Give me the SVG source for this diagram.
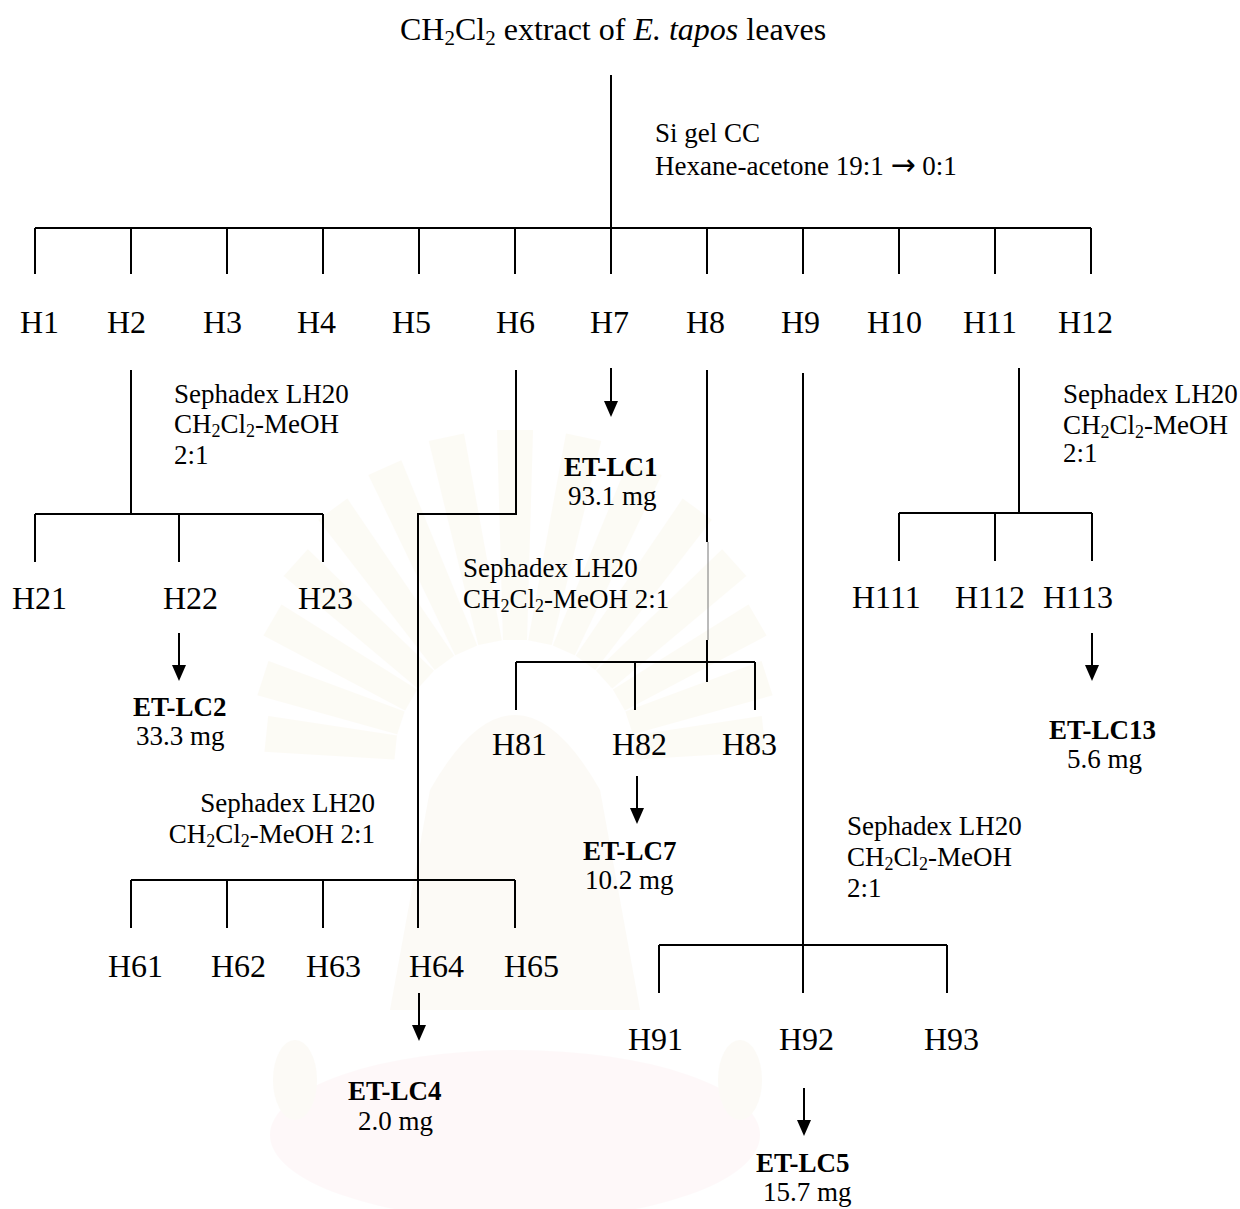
<svg xmlns="http://www.w3.org/2000/svg" width="1240" height="1209" viewBox="0 0 1240 1209">
  <defs>
    <style>
      .t { font-family: "Liberation Serif", "Times New Roman", serif; fill: #000; }
      .h { font-size: 32px; }
      .s { font-size: 27px; }
      .b { font-weight: bold; }
      .ln { stroke: #000; stroke-width: 2; fill: none; stroke-linecap: butt; }
      .thin { stroke: #777; stroke-width: 1; fill: none; }
      .ray { fill: #f6eed4; }
    </style>
    <marker id="ah" markerUnits="userSpaceOnUse" markerWidth="16" markerHeight="14" refX="0" refY="7" orient="auto" viewBox="0 0 16 14">
      <path d="M0,0 L16,7 L0,14 z" fill="#000"/>
    </marker>
  </defs>

  <rect width="1240" height="1209" fill="#fff"/>

  <!-- faint emblem watermark behind the chart -->
  <g id="watermark" opacity="0.22">
    <g class="ray" transform="translate(515 760)">
      <path d="M-12,-120 L-18,-330 L18,-330 L12,-120 z"/>
      <path d="M-12,-120 L-18,-330 L18,-330 L12,-120 z" transform="rotate(-12)"/>
      <path d="M-12,-120 L-18,-330 L18,-330 L12,-120 z" transform="rotate(12)"/>
      <path d="M-12,-120 L-18,-320 L18,-320 L12,-120 z" transform="rotate(-24)"/>
      <path d="M-12,-120 L-18,-320 L18,-320 L12,-120 z" transform="rotate(24)"/>
      <path d="M-12,-120 L-18,-310 L18,-310 L12,-120 z" transform="rotate(-36)"/>
      <path d="M-12,-120 L-18,-310 L18,-310 L12,-120 z" transform="rotate(36)"/>
      <path d="M-12,-120 L-18,-295 L18,-295 L12,-120 z" transform="rotate(-48)"/>
      <path d="M-12,-120 L-18,-295 L18,-295 L12,-120 z" transform="rotate(48)"/>
      <path d="M-12,-120 L-18,-280 L18,-280 L12,-120 z" transform="rotate(-60)"/>
      <path d="M-12,-120 L-18,-280 L18,-280 L12,-120 z" transform="rotate(60)"/>
      <path d="M-12,-120 L-18,-265 L18,-265 L12,-120 z" transform="rotate(-72)"/>
      <path d="M-12,-120 L-18,-265 L18,-265 L12,-120 z" transform="rotate(72)"/>
      <path d="M-12,-120 L-18,-250 L18,-250 L12,-120 z" transform="rotate(-84)"/>
      <path d="M-12,-120 L-18,-250 L18,-250 L12,-120 z" transform="rotate(84)"/>
    </g>
    <path d="M430,790 Q515,640 600,790 L640,1010 L390,1010 z" fill="#f3ecd8"/>
    <ellipse cx="515" cy="1135" rx="245" ry="85" fill="#fbe4e8"/>
    <ellipse cx="295" cy="1080" rx="22" ry="40" fill="#f3ecd8"/>
    <ellipse cx="740" cy="1080" rx="22" ry="40" fill="#f3ecd8"/>
  </g>

  <!-- connectors -->
  <g id="connectors">
    <!-- silica gel column: extract to H1-H12 -->
    <path class="ln" d="M611,75 V228 M35,228 H1091"/>
    <path class="ln" d="M35,228 V274 M131,228 V274 M227,228 V274 M323,228 V274 M419,228 V274 M515,228 V274 M611,228 V274 M707,228 V274 M803,228 V274 M899,228 V274 M995,228 V274 M1091,228 V274"/>

    <!-- H2 to H21-H23 -->
    <path class="ln" d="M131,370 V514 M35,514 H323 M35,514 V562 M179,514 V562 M323,514 V562"/>
    <line class="ln" x1="179" y1="633" x2="179" y2="665" marker-end="url(#ah)"/>

    <!-- H6 to H61-H65 -->
    <path class="ln" d="M516,370 V514 H418 V928 M131,880 H515 M131,880 V928 M227,880 V928 M323,880 V928 M515,880 V928"/>
    <line class="ln" x1="419" y1="993" x2="419" y2="1025" marker-end="url(#ah)"/>

    <!-- H7 to ET-LC1 -->
    <line class="ln" x1="611" y1="368" x2="611" y2="401" marker-end="url(#ah)"/>

    <!-- H8 to H81-H83 -->
    <path class="ln" d="M707,370 V542 M707,640 V682 M516,662 H755 M516,662 V710 M635,662 V710 M755,662 V710"/>
    <path class="thin" d="M708,542 V640"/>
    <line class="ln" x1="637" y1="776" x2="637" y2="808" marker-end="url(#ah)"/>

    <!-- H9 to H91-H93 -->
    <path class="ln" d="M803,373 V993 M659,945 H947 M659,945 V993 M947,945 V993"/>
    <line class="ln" x1="804" y1="1088" x2="804" y2="1120" marker-end="url(#ah)"/>

    <!-- H11 to H111-H113 -->
    <path class="ln" d="M1019,368 V513 M899,513 H1092 M899,513 V561 M995,513 V561 M1092,513 V561"/>
    <line class="ln" x1="1092" y1="633" x2="1092" y2="665" marker-end="url(#ah)"/>
  </g>

  <!-- starting material -->
  <g id="extract">
    <text class="t h" x="400" y="40">CH<tspan font-size="21" dy="5">2</tspan><tspan dy="-5">Cl</tspan><tspan font-size="21" dy="5">2</tspan><tspan dy="-5"> extract of </tspan><tspan font-style="italic">E. tapos</tspan> leaves</text>
  </g>

  <g id="cond-silica">
    <text class="t s" x="655" y="142">Si gel CC</text>
    <text class="t s" x="655" y="175">Hexane-acetone 19:1 <tspan font-family="DejaVu Sans, sans-serif" font-size="30">→</tspan> 0:1</text>
  </g>

  <!-- first-level fractions -->
  <g id="H1"><text class="t h" x="20" y="333">H1</text></g>
  <g id="H2"><text class="t h" x="107" y="333">H2</text></g>
  <g id="H3"><text class="t h" x="203" y="333">H3</text></g>
  <g id="H4"><text class="t h" x="297" y="333">H4</text></g>
  <g id="H5"><text class="t h" x="392" y="333">H5</text></g>
  <g id="H6"><text class="t h" x="496" y="333">H6</text></g>
  <g id="H7"><text class="t h" x="590" y="333">H7</text></g>
  <g id="H8"><text class="t h" x="686" y="333">H8</text></g>
  <g id="H9"><text class="t h" x="781" y="333">H9</text></g>
  <g id="H10"><text class="t h" x="867" y="333">H10</text></g>
  <g id="H11"><text class="t h" x="963" y="333">H11</text></g>
  <g id="H12"><text class="t h" x="1058" y="333">H12</text></g>

  <!-- H2 branch -->
  <g id="cond-H2">
    <text class="t s" x="174" y="403">Sephadex LH20</text>
    <text class="t s" x="174" y="433">CH<tspan font-size="18" dy="4">2</tspan><tspan dy="-4">Cl</tspan><tspan font-size="18" dy="4">2</tspan><tspan dy="-4">-MeOH</tspan></text>
    <text class="t s" x="174" y="464">2:1</text>
  </g>
  <g id="H21"><text class="t h" x="12" y="609">H21</text></g>
  <g id="H22"><text class="t h" x="163" y="609">H22</text></g>
  <g id="H23"><text class="t h" x="298" y="609">H23</text></g>
  <g id="ET-LC2">
    <text class="t s b" x="133" y="716">ET-LC2</text>
    <text class="t s" x="136" y="745">33.3 mg</text>
  </g>

  <!-- H7 product -->
  <g id="ET-LC1">
    <text class="t s b" x="564" y="476">ET-LC1</text>
    <text class="t s" x="568" y="505">93.1 mg</text>
  </g>

  <!-- H8 branch -->
  <g id="cond-H8">
    <text class="t s" x="463" y="577">Sephadex LH20</text>
    <text class="t s" x="463" y="608">CH<tspan font-size="18" dy="4">2</tspan><tspan dy="-4">Cl</tspan><tspan font-size="18" dy="4">2</tspan><tspan dy="-4">-MeOH 2:1</tspan></text>
  </g>
  <g id="H81"><text class="t h" x="492" y="755">H81</text></g>
  <g id="H82"><text class="t h" x="612" y="755">H82</text></g>
  <g id="H83"><text class="t h" x="722" y="755">H83</text></g>
  <g id="ET-LC7">
    <text class="t s b" x="583" y="860">ET-LC7</text>
    <text class="t s" x="585" y="889">10.2 mg</text>
  </g>

  <!-- H11 branch -->
  <g id="cond-H11">
    <text class="t s" x="1063" y="403">Sephadex LH20</text>
    <text class="t s" x="1063" y="434">CH<tspan font-size="18" dy="4">2</tspan><tspan dy="-4">Cl</tspan><tspan font-size="18" dy="4">2</tspan><tspan dy="-4">-MeOH</tspan></text>
    <text class="t s" x="1063" y="462">2:1</text>
  </g>
  <g id="H111"><text class="t h" x="852" y="608">H111</text></g>
  <g id="H112"><text class="t h" x="955" y="608">H112</text></g>
  <g id="H113"><text class="t h" x="1043" y="608">H113</text></g>
  <g id="ET-LC13">
    <text class="t s b" x="1049" y="739">ET-LC13</text>
    <text class="t s" x="1067" y="768">5.6 mg</text>
  </g>

  <!-- H6 branch -->
  <g id="cond-H6">
    <text class="t s" x="375" y="812" text-anchor="end">Sephadex LH20</text>
    <text class="t s" x="375" y="843" text-anchor="end">CH<tspan font-size="18" dy="4">2</tspan><tspan dy="-4">Cl</tspan><tspan font-size="18" dy="4">2</tspan><tspan dy="-4">-MeOH 2:1</tspan></text>
  </g>
  <g id="H61"><text class="t h" x="108" y="977">H61</text></g>
  <g id="H62"><text class="t h" x="211" y="977">H62</text></g>
  <g id="H63"><text class="t h" x="306" y="977">H63</text></g>
  <g id="H64"><text class="t h" x="409" y="977">H64</text></g>
  <g id="H65"><text class="t h" x="504" y="977">H65</text></g>
  <g id="ET-LC4">
    <text class="t s b" x="348" y="1100">ET-LC4</text>
    <text class="t s" x="358" y="1130">2.0 mg</text>
  </g>

  <!-- H9 branch -->
  <g id="cond-H9">
    <text class="t s" x="847" y="835">Sephadex LH20</text>
    <text class="t s" x="847" y="866">CH<tspan font-size="18" dy="4">2</tspan><tspan dy="-4">Cl</tspan><tspan font-size="18" dy="4">2</tspan><tspan dy="-4">-MeOH</tspan></text>
    <text class="t s" x="847" y="897">2:1</text>
  </g>
  <g id="H91"><text class="t h" x="628" y="1050">H91</text></g>
  <g id="H92"><text class="t h" x="779" y="1050">H92</text></g>
  <g id="H93"><text class="t h" x="924" y="1050">H93</text></g>
  <g id="ET-LC5">
    <text class="t s b" x="756" y="1172">ET-LC5</text>
    <text class="t s" x="763" y="1201">15.7 mg</text>
  </g>
</svg>
